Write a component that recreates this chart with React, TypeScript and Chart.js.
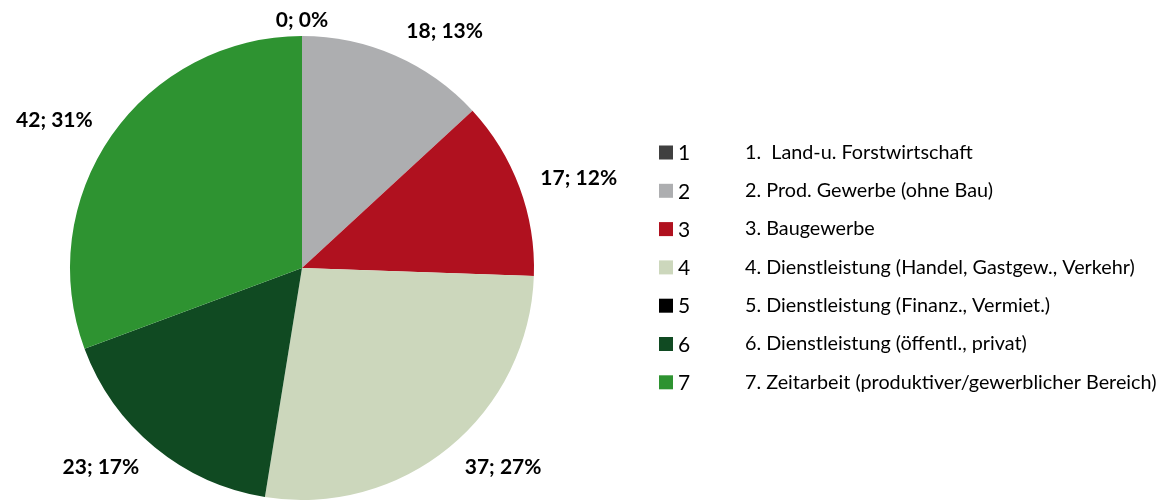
import React, { useEffect, useRef } from "react";
import { Chart, registerables } from "chart.js";

Chart.register(...registerables);

const categories = ["1", "2", "3", "4", "5", "6", "7"];
const descriptions = [
  "1.  Land-u. Forstwirtschaft",
  "2. Prod. Gewerbe (ohne Bau)",
  "3. Baugewerbe",
  "4. Dienstleistung (Handel, Gastgew., Verkehr)",
  "5. Dienstleistung (Finanz., Vermiet.)",
  "6. Dienstleistung (öffentl., privat)",
  "7. Zeitarbeit (produktiver/gewerblicher Bereich)",
];
const values = [0, 18, 17, 37, 0, 23, 42];
const colors = ["#404040", "#ADAEB0", "#B0111F", "#CCD7BC", "#000000", "#104A22", "#2E9331"];

const FONT = "Lato, 'Noto Sans', sans-serif";

const labelPlugin = {
  id: "sliceLabels",
  afterDatasetsDraw(chart: any) {
    const ctx = chart.ctx;
    const meta = chart.getDatasetMeta(0);
    const data = chart.data.datasets[0].data as number[];
    const total = data.reduce((a, b) => a + b, 0);
    ctx.save();
    ctx.font = `bold 21px ${FONT}`;
    ctx.fillStyle = "#000";
    ctx.textAlign = "center";
    ctx.textBaseline = "middle";
    meta.data.forEach((arc: any, i: number) => {
      const { x, y, startAngle, endAngle, outerRadius } = arc.getProps(
        ["x", "y", "startAngle", "endAngle", "outerRadius"],
        true
      );
      const mid = (startAngle + endAngle) / 2;
      const dx = Math.cos(mid);
      const dy = Math.sin(mid);
      const text = `${data[i]}; ${Math.round((data[i] / total) * 100)}%`;
      const w = ctx.measureText(text).width;
      const D = outerRadius + 18;
      const ax = x + dx * D;
      const ay = y + dy * D;
      const hx = Math.max(-1, Math.min(1, dx * 3)) * (w / 2 + 4);
      let cy = ay + dy * 8;
      if (cy < 20) cy = 20;
      ctx.fillText(text, ax + hx, cy);
    });
    ctx.restore();
  },
};

const legendPlugin = {
  id: "customLegend",
  afterDraw(chart: any) {
    const ctx = chart.ctx;
    const labels = chart.data.labels as string[];
    ctx.save();
    ctx.textBaseline = "middle";
    ctx.textAlign = "left";
    labels.forEach((lab, i) => {
      const cy = 152.5 + i * 38.3;
      ctx.fillStyle = colors[i];
      ctx.fillRect(659, cy - 7, 14, 14);
      ctx.fillStyle = "#000";
      ctx.font = `21px ${FONT}`;
      ctx.fillText(lab, 678, cy + 1);
      ctx.font = `19.8px ${FONT}`;
      ctx.fillText(descriptions[i], 745, cy);
    });
    ctx.restore();
  },
};

export default function App() {
  const ref = useRef<HTMLCanvasElement>(null);
  useEffect(() => {
    if (!ref.current) return;
    const chart = new Chart(ref.current, {
      type: "pie",
      data: {
        labels: categories,
        datasets: [
          {
            data: values,
            backgroundColor: colors,
            borderWidth: 0,
          },
        ],
      },
      options: {
        animation: false,
        responsive: false,
        layout: { padding: { left: 70, right: 628, top: 36, bottom: 0 } },
        plugins: { legend: { display: false }, tooltip: { enabled: false } },
      },
      plugins: [labelPlugin, legendPlugin],
    });
    return () => chart.destroy();
  }, []);
  return (
    <div style={{ position: "fixed", left: 0, top: 0, width: 1162, height: 500, background: "#fff" }}>
      <canvas ref={ref} width={1162} height={500} style={{ display: "block" }} />
    </div>
  );
}
